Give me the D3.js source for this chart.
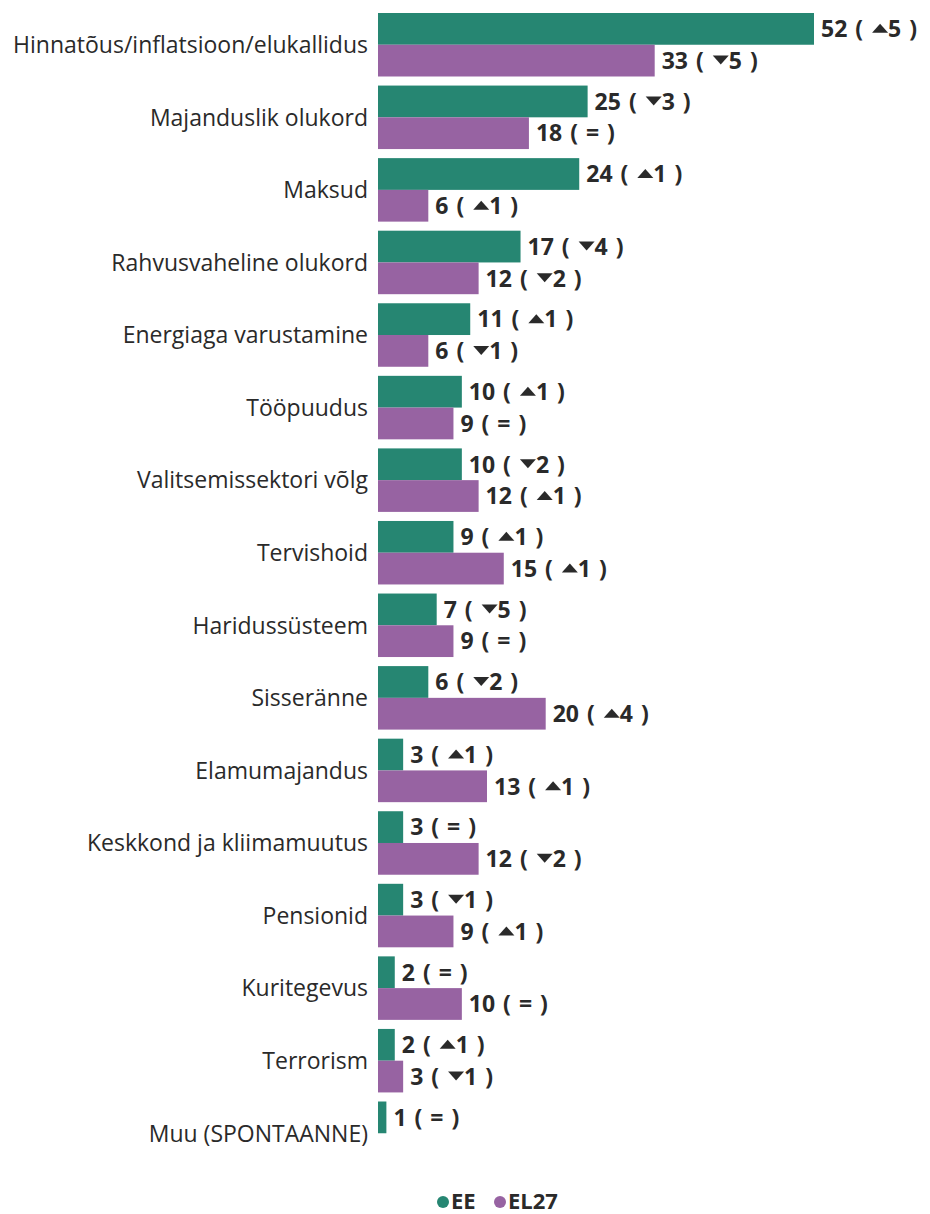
<!DOCTYPE html>
<html>
<head>
<meta charset="utf-8">
<script src="https://cdn.jsdelivr.net/npm/d3@7"></script>
<style>
  body { margin: 0; background: #fff; }
  svg { display: block; }
</style>
</head>
<body>
<div id="chart"></div>
<script>
// categories, top to bottom
const categories = [
    "Hinnatõus/inflatsioon/elukallidus", "Majanduslik olukord", "Maksud",
    "Rahvusvaheline olukord", "Energiaga varustamine", "Tööpuudus",
    "Valitsemissektori võlg", "Tervishoid", "Haridussüsteem", "Sisseränne",
    "Elamumajandus", "Keskkond ja kliimamuutus", "Pensionid", "Kuritegevus",
    "Terrorism", "Muu (SPONTAANNE)"
];
const seriesNames = ["EE", "EL27"];
const eeValues   = [52, 25, 24, 17, 11, 10, 10, 9, 7, 6, 3, 3, 3, 2, 2, 1];
const eeChange   = [5, -3, 1, -4, 1, 1, -2, 1, -5, -2, 1, 0, -1, 0, 1, 0];
const el27Values = [33, 18, 6, 12, 6, 9, 12, 15, 9, 20, 13, 12, 9, 10, 3, null];
const el27Change = [-5, 0, 1, -2, -1, 0, 1, 1, 0, 4, 1, -2, 1, 0, -1, null];

const colors = {EE: "#268672", EL27: "#9763a2"};
const textColor = "#2a2a2a";
const font = "'Open Sans', sans-serif";

const W = 930, H = 1214;
const svg = d3.select("#chart").append("svg").attr("width", W).attr("height", H);

const x = d3.scaleLinear().domain([0, 52]).range([378, 814]);
const y = d3.scaleBand().domain(categories).range([13, 13 + 72 * 16]).paddingInner(0.125).paddingOuter(0);
const y1 = d3.scaleBand().domain(seriesNames).range([0, y.bandwidth()]);

// flatten rows
const rows = [];
categories.forEach((c, i) => {
    rows.push({cat: c, s: "EE", v: eeValues[i], ch: eeChange[i]});
    if (el27Values[i] != null) rows.push({cat: c, s: "EL27", v: el27Values[i], ch: el27Change[i]});
});

svg.append("g").selectAll("rect").data(rows).join("rect")
    .attr("x", x(0))
    .attr("y", d => y(d.cat) + y1(d.s))
    .attr("width", d => x(d.v) - x(0))
    .attr("height", y1.bandwidth())
    .attr("fill", d => colors[d.s]);

// value labels: "52 (" + triangle + "5 )"
const labels = svg.append("g").selectAll("g").data(rows).join("g")
    .attr("transform", d => `translate(${x(d.v) + 7},${y(d.cat) + y1(d.s) + y1.bandwidth() / 2})`);

labels.each(function(d) {
    const g = d3.select(this);
    const t1 = g.append("text")
        .attr("dy", "0.36em")
        .attr("font-family", font)
        .attr("font-weight", 700)
        .attr("font-size", 23)
        .attr("fill", textColor)
        .attr("word-spacing", 2)
        .text(d.ch === 0 ? d.v + " ( = )" : d.v + " (");
    if (d.ch !== 0) {
        const w = t1.node().getComputedTextLength();
        const tx = w + 9;
        const up = d.ch > 0;
        const tri = up
            ? `M${tx},4 L${tx + 8},-5 L${tx + 16},4 Z`
            : `M${tx},-5 L${tx + 8},4 L${tx + 16},-5 Z`;
        g.append("path").attr("d", tri).attr("fill", textColor);
        g.append("text")
            .attr("x", tx + 16)
            .attr("dy", "0.36em")
            .attr("font-family", font)
            .attr("font-weight", 700)
            .attr("font-size", 23)
            .attr("fill", textColor)
            .attr("word-spacing", 2)
            .text(Math.abs(d.ch) + " )");
    }
});

// category labels
svg.append("g").selectAll("text").data(categories).join("text")
    .attr("x", 368)
    .attr("y", d => y(d) + y.bandwidth() / 2)
    .attr("dy", "0.36em")
    .attr("text-anchor", "end")
    .attr("font-family", font)
    .attr("font-size", 23)
    .attr("fill", textColor)
    .text(d => d);

// legend
const legend = svg.append("g").attr("transform", "translate(443,1202)");
const lx = [0, 57];
seriesNames.forEach((s, i) => {
    const g = legend.append("g").attr("transform", `translate(${lx[i]},0)`);
    g.append("circle").attr("r", 6).attr("fill", colors[s]);
    g.append("text").attr("x", 8).attr("y", 7)
        .attr("font-family", font).attr("font-weight", 700)
        .attr("font-size", 22).attr("fill", textColor).text(s);
});
</script>
</body>
</html>
